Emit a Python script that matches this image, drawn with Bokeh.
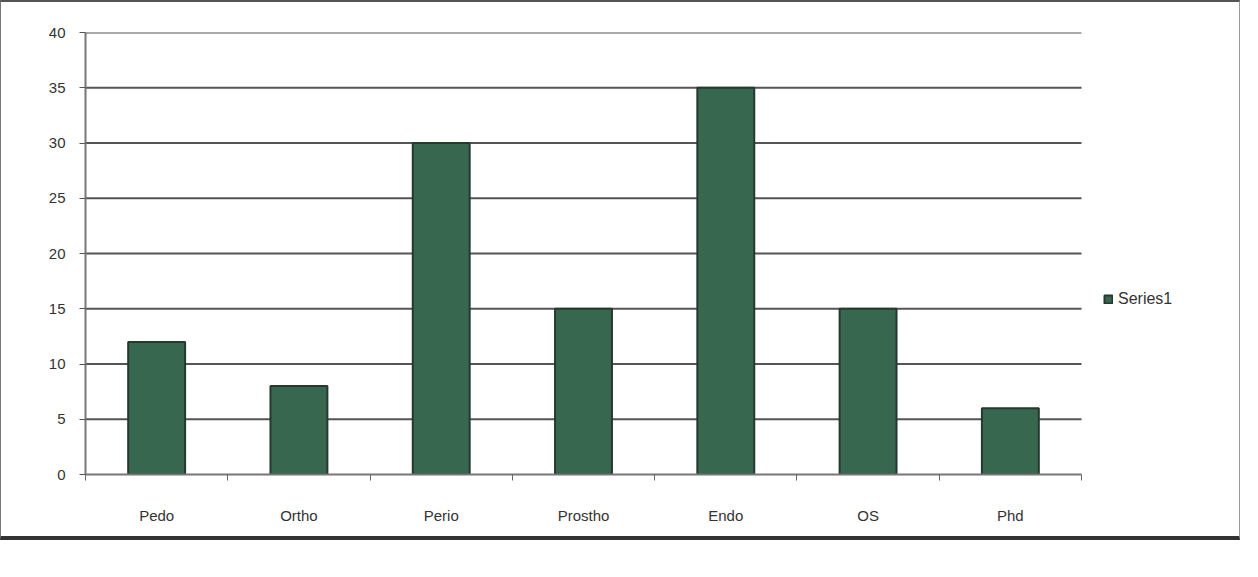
from bokeh.plotting import figure
from bokeh.models import ColumnDataSource, FixedTicker, Legend, LegendItem, Range1d
from bokeh.embed import file_html
from bokeh.resources import INLINE

categories = ["Pedo", "Ortho", "Perio", "Prostho", "Endo", "OS", "Phd"]
series1 = [12, 8, 30, 15, 35, 15, 6]
y_ticks = [0, 5, 10, 15, 20, 25, 30, 35, 40]

n = len(categories)
xpos = [i + 0.5 for i in range(n)]
src = ColumnDataSource(dict(x=xpos, top=series1, cat=categories))

W, H = 1240, 540
BL, BR, BT, BB = 84, 8, 30, 68
frame_w = W - BL - BR
plot_w = 996  # pixels used by the category area; the rest holds the legend
x_end = n * frame_w / plot_w

p = figure(width=W, height=H, output_backend="svg", toolbar_location=None,
           x_range=Range1d(0, x_end), y_range=Range1d(0, 40),
           min_border_left=BL, min_border_right=BR, min_border_top=BT, min_border_bottom=BB)
p.outline_line_color = None
p.background_fill_color = "white"
p.border_fill_color = "white"
p.styles = {"border-left": "1px solid #777", "border-right": "1px solid #999",
            "border-top": "2px solid #555", "border-bottom": "4px solid #333"}

# horizontal gridlines limited to the category area
grid_src = ColumnDataSource(dict(y=y_ticks[1:], x0=[0] * (len(y_ticks) - 1),
                                 x1=[n] * (len(y_ticks) - 1)))
p.segment(x0="x0", x1="x1", y0="y", y1="y", source=grid_src,
          line_color="#555", line_width=2)

r = p.vbar(x="x", top="top", width=0.4, bottom=0, source=src,
           fill_color="#37684f", line_color="#25392f", line_width=2)

# axes
p.xaxis.bounds = (0, n)
p.xaxis.ticker = FixedTicker(ticks=xpos, minor_ticks=list(range(n + 1)))
p.xaxis.major_label_overrides = {x: c for x, c in zip(xpos, categories)}
p.xaxis.major_tick_line_color = None
p.xaxis.minor_tick_in = 0
p.xaxis.minor_tick_out = 6
p.xaxis.minor_tick_line_color = "#666"
p.xaxis.axis_line_color = "#777"
p.xaxis.axis_line_width = 2
p.xaxis.major_label_standoff = 26
p.xaxis.major_label_text_font = "Liberation Sans"
p.xaxis.major_label_text_font_size = "15px"
p.xaxis.major_label_text_color = "#333"

p.yaxis.ticker = FixedTicker(ticks=y_ticks)
p.yaxis.minor_tick_line_color = None
p.yaxis.major_tick_in = 0
p.yaxis.major_tick_out = 6
p.yaxis.major_tick_line_color = "#555"
p.yaxis.axis_line_color = "#777"
p.yaxis.axis_line_width = 2
p.yaxis.major_label_standoff = 14
p.yaxis.major_label_text_font = "Liberation Sans"
p.yaxis.major_label_text_font_size = "15px"
p.yaxis.major_label_text_color = "#333"

p.xgrid.grid_line_color = None
p.ygrid.grid_line_color = None

legend = Legend(items=[LegendItem(label="Series1", renderers=[r])],
                location=(plot_w + 22, 166), border_line_color=None,
                background_fill_alpha=0,
                label_text_font="Liberation Sans", label_text_font_size="16px",
                label_text_color="#333", glyph_width=10, glyph_height=10,
                padding=4, margin=0, spacing=4, label_standoff=5)
p.add_layout(legend)

open("out.html", "w").write(file_html(p, INLINE))
